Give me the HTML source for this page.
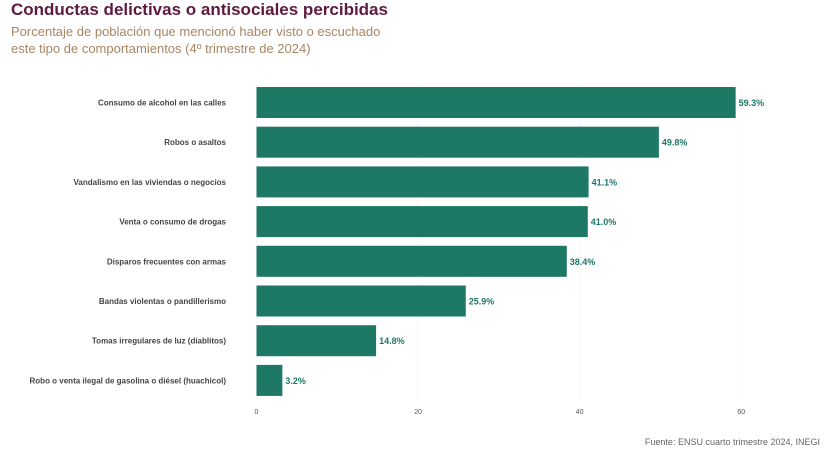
<!DOCTYPE html>
<html><head><meta charset="utf-8"><style>
body{margin:0;width:824px;height:449px;background:#fff;overflow:hidden;font-family:"Liberation Sans","DejaVu Sans",sans-serif;position:relative}
#title{position:absolute;left:11px;top:0px;font-size:17px;font-weight:bold;color:#5e1a3f;white-space:nowrap}
#sub{position:absolute;left:11px;top:23px;font-size:13px;color:#a88663;line-height:17px;white-space:nowrap}
#src{position:absolute;right:4px;top:437px;font-size:9px;color:#666;white-space:nowrap}
svg{position:absolute;left:0;top:0}
</style></head><body>
<div id="title">Conductas delictivas o antisociales percibidas</div>
<div id="sub">Porcentaje de población que mencionó haber visto o escuchado<br>este tipo de comportamientos (4º trimestre de 2024)</div>
<div id="src">Fuente: ENSU cuarto trimestre 2024, INEGI</div>
<svg id="chart" width="824" height="449"></svg>
<script>
const categories=["Consumo de alcohol en las calles","Robos o asaltos","Vandalismo en las viviendas o negocios","Venta o consumo de drogas","Disparos frecuentes con armas","Bandas violentas o pandillerismo","Tomas irregulares de luz (diablitos)","Robo o venta ilegal de gasolina o diésel (huachicol)"];
const values=[59.3,49.8,41.1,41.0,38.4,25.9,14.8,3.2];
const ticks=[0,20,40,60];
const NS="http://www.w3.org/2000/svg";
const svg=document.getElementById('chart');
const x0=256.5,pxPer=8.08,top0=87,step=39.7,bh=31;
const x=v=>x0+v*pxPer;
const y=i=>top0+i*step;
function mk(t,a){const e=document.createElementNS(NS,t);for(const k in a)e.setAttribute(k,a[k]);svg.appendChild(e);return e;}
ticks.forEach(t=>{
  const g=mk('line',{x1:x(t),x2:x(t),y1:85,y2:400,stroke:'#e4e4e4','stroke-dasharray':'1,3'});
  
  
  const l=mk('text',{x:x(t),y:414,'font-size':7,fill:'#555','text-anchor':'middle'});
  l.textContent=t;
  
  
});
categories.forEach((c,i)=>{
  const r=mk('rect',{x:x(0),y:y(i),width:x(values[i])-x(0),height:bh,fill:'#1e7866'});
  
  
  const lab=mk('text',{x:226,y:y(i)+bh/2+3,'font-size':8,'font-weight':'bold',fill:'#444','text-anchor':'end'});
  lab.textContent=c;
  
  
  const v=mk('text',{x:x(values[i])+3,y:y(i)+bh/2+3.5,'font-size':9,'font-weight':'bold',fill:'#1e7866'});
  v.textContent=values[i].toFixed(1)+'%';
  
  
});
</script>
</body></html>
